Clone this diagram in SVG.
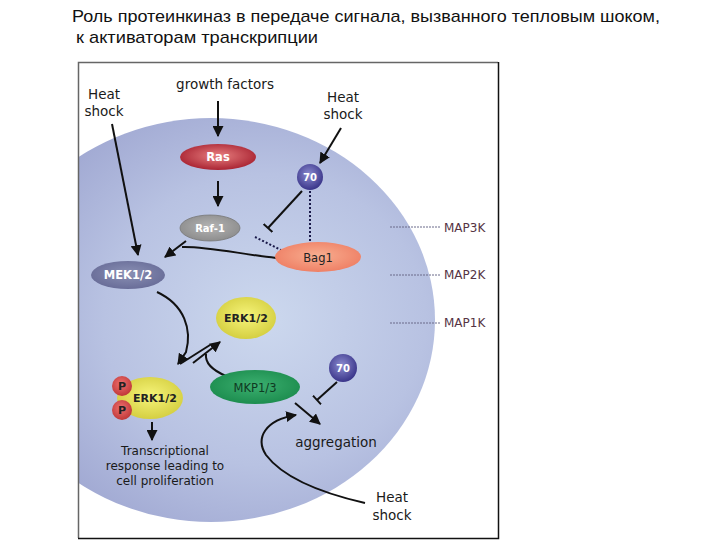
<svg xmlns="http://www.w3.org/2000/svg" width="720" height="540" viewBox="0 0 720 540">
<defs>
<radialGradient id="cell" cx="0.62" cy="0.5" r="0.6">
<stop offset="0" stop-color="#ccd8ee"/><stop offset="0.6" stop-color="#b8c2e2"/><stop offset="1" stop-color="#a0a8d2"/>
</radialGradient>
<radialGradient id="gRas" cx="0.5" cy="0.45" r="0.6"><stop offset="0" stop-color="#e88080"/><stop offset="1" stop-color="#a41c2c"/></radialGradient>
<radialGradient id="g70" cx="0.45" cy="0.4" r="0.6"><stop offset="0" stop-color="#8c8cd0"/><stop offset="1" stop-color="#3a358a"/></radialGradient>
<radialGradient id="gRaf" cx="0.5" cy="0.45" r="0.6"><stop offset="0" stop-color="#b4b4b4"/><stop offset="1" stop-color="#8a8a8a"/></radialGradient>
<radialGradient id="gBag" cx="0.5" cy="0.45" r="0.6"><stop offset="0" stop-color="#f8ae90"/><stop offset="1" stop-color="#ee7c62"/></radialGradient>
<radialGradient id="gMEK" cx="0.5" cy="0.45" r="0.6"><stop offset="0" stop-color="#8a90b4"/><stop offset="1" stop-color="#666a96"/></radialGradient>
<radialGradient id="gERK" cx="0.5" cy="0.45" r="0.6"><stop offset="0" stop-color="#f6f47a"/><stop offset="1" stop-color="#d2cc3c"/></radialGradient>
<radialGradient id="gMKP" cx="0.5" cy="0.45" r="0.6"><stop offset="0" stop-color="#3cb070"/><stop offset="1" stop-color="#1a8a4c"/></radialGradient>
<radialGradient id="gP" cx="0.45" cy="0.4" r="0.6"><stop offset="0" stop-color="#ee7070"/><stop offset="1" stop-color="#c03838"/></radialGradient>
<marker id="ah" viewBox="0 0 10 10" refX="9" refY="5" markerWidth="5.5" markerHeight="5.5" orient="auto" markerUnits="strokeWidth">
<path d="M0,0 L10,5 L0,10 Z" fill="#111"/>
</marker>
<marker id="tb" viewBox="0 0 10 10" refX="5" refY="5" markerWidth="6" markerHeight="6" orient="auto" markerUnits="strokeWidth">
<path d="M5,0 L5,10" stroke="#111" stroke-width="1.6"/>
</marker>
<clipPath id="frame"><rect x="79" y="63" width="419" height="475"/></clipPath>
</defs>
<style>
.title{font-family:"Liberation Sans",Arial,sans-serif;font-size:17px;fill:#111}
.lbl{font-family:"DejaVu Sans",Verdana,sans-serif;font-size:13.5px;fill:#1a1a1a;text-anchor:middle}
.sm{font-family:"DejaVu Sans",Verdana,sans-serif;font-size:12px;fill:#1a1a1a;text-anchor:middle}
.map{font-family:"DejaVu Sans",Verdana,sans-serif;font-size:12px;fill:#553344}
.nw{font-family:"DejaVu Sans",Verdana,sans-serif;font-size:11.5px;font-weight:bold;fill:#fff;text-anchor:middle}
.n70{font-family:"DejaVu Sans",Verdana,sans-serif;font-size:10px;font-weight:bold;fill:#fff;text-anchor:middle}
.nd{font-family:"DejaVu Sans",Verdana,sans-serif;font-size:11px;font-weight:bold;fill:#222;text-anchor:middle}
.nn{font-family:"DejaVu Sans",Verdana,sans-serif;font-size:11.5px;fill:#222;text-anchor:middle}
.ln{fill:none;stroke:#111;stroke-width:2}
.dot{fill:none;stroke:#1a1a4a;stroke-width:2;stroke-dasharray:2 2}
.guide{stroke:#6a6a8a;stroke-width:1;stroke-dasharray:2 1}
</style>
<rect width="720" height="540" fill="#fff"/>
<text class="title" x="72" y="22" textLength="588" lengthAdjust="spacingAndGlyphs">Роль протеинкиназ в  передаче сигнала, вызванного тепловым шоком,</text>
<text class="title" x="76" y="43" textLength="242" lengthAdjust="spacingAndGlyphs">к активаторам транскрипции</text>
<g id="cell">
<ellipse cx="211" cy="320" rx="224" ry="202" fill="url(#cell)" clip-path="url(#frame)"/>
</g>
<g id="frame-border">
<path d="M78.5,538 L78.5,62.5 L498,62.5" fill="none" stroke="#666" stroke-width="1.5"/>
<path d="M498.5,62 L498.5,538.5 L78,538.5" fill="none" stroke="#111" stroke-width="1.5"/>
</g>
<g id="levels">
<line class="guide" x1="390" y1="227" x2="440" y2="227"/>
<line class="guide" x1="390" y1="275" x2="440" y2="275"/>
<line class="guide" x1="390" y1="323" x2="440" y2="323"/>
<text class="map" x="444" y="232">MAP3K</text>
<text class="map" x="444" y="279">MAP2K</text>
<text class="map" x="444" y="327">MAP1K</text>
</g>
<g id="connectors">
<line class="ln" x1="218" y1="101" x2="218" y2="136" marker-end="url(#ah)"/>
<line class="ln" x1="218" y1="181" x2="218" y2="206" marker-end="url(#ah)"/>
<line class="ln" x1="341" y1="128" x2="320" y2="163" marker-end="url(#ah)"/>
<line class="ln" x1="112" y1="124" x2="138" y2="255" marker-end="url(#ah)"/>
<line class="ln" x1="302" y1="191" x2="268" y2="228" marker-end="url(#tb)"/>
<line class="dot" x1="310" y1="191" x2="310" y2="243"/>
<line class="dot" x1="255" y1="237" x2="281" y2="250"/>
<line class="ln" x1="186" y1="241" x2="165" y2="257" marker-end="url(#ah)"/>
<path class="ln" d="M276,258 C240,254 205,246 182,247"/>
<path class="ln" d="M157,292 C185,305 192,330 186,352 L178,364" marker-end="url(#ah)"/>
<line class="ln" x1="210" y1="345" x2="180" y2="364"/>
<line class="ln" x1="193" y1="363" x2="220" y2="342" marker-end="url(#ah)"/>
<path class="ln" d="M226,376 C212,370 205,362 206,354"/>
<line class="ln" x1="152" y1="422" x2="152" y2="440" marker-end="url(#ah)"/>
<line class="ln" x1="337" y1="382" x2="317" y2="400" marker-end="url(#tb)"/>
<line class="ln" x1="295" y1="403" x2="320" y2="424" marker-end="url(#ah)"/>
<path class="ln" d="M365,503 C330,495 285,480 266,455 C255,438 265,420 296,415" marker-end="url(#ah)"/>
</g>
<g id="n-growth"><text class="lbl" x="225" y="89">growth factors</text></g>
<g id="n-heat1"><text class="lbl" x="104" y="99">Heat</text><text class="lbl" x="104" y="116">shock</text></g>
<g id="n-heat2"><text class="lbl" x="343" y="102">Heat</text><text class="lbl" x="343" y="119">shock</text></g>
<g id="n-ras"><ellipse cx="218" cy="157" rx="38" ry="13" fill="url(#gRas)"/><text class="nw" x="218" y="161">Ras</text></g>
<g id="n-70a"><circle cx="310" cy="177" r="13" fill="url(#g70)"/><text class="n70" x="310" y="181">70</text></g>
<g id="n-raf"><ellipse cx="210" cy="228" rx="30" ry="13" fill="url(#gRaf)" stroke="#777" stroke-width="0.8"/><text class="n70" x="210" y="232">Raf-1</text></g>
<g id="n-bag1"><ellipse cx="318" cy="257" rx="43" ry="15" fill="url(#gBag)"/><text class="nn" x="318" y="262">Bag1</text></g>
<g id="n-mek"><ellipse cx="128" cy="275" rx="37" ry="14" fill="url(#gMEK)"/><text class="nw" x="128" y="279">MEK1/2</text></g>
<g id="n-erk"><ellipse cx="246" cy="318" rx="30" ry="21" fill="url(#gERK)"/><text class="nd" x="246" y="322">ERK1/2</text></g>
<g id="n-perk">
<ellipse cx="150" cy="398" rx="33" ry="21" fill="url(#gERK)"/>
<circle cx="122" cy="386" r="10" fill="url(#gP)"/><circle cx="122" cy="410" r="10" fill="url(#gP)"/>
<text class="nd" x="122" y="390">P</text><text class="nd" x="122" y="414">P</text>
<text class="nd" x="155" y="402">ERK1/2</text>
</g>
<g id="n-mkp"><ellipse cx="255" cy="387" rx="45" ry="17" fill="url(#gMKP)"/><text class="nn" x="255" y="392" style="fill:#0f3a22">MKP1/3</text></g>
<g id="n-70b"><circle cx="343" cy="368" r="14" fill="url(#g70)"/><text class="n70" x="343" y="372">70</text></g>
<g id="n-aggr"><text class="lbl" x="336" y="447">aggregation</text></g>
<g id="n-trans"><text class="sm" x="165" y="455">Transcriptional</text><text class="sm" x="165" y="470">response leading to</text><text class="sm" x="165" y="485">cell proliferation</text></g>
<g id="n-heat3"><text class="lbl" x="392" y="502">Heat</text><text class="lbl" x="392" y="520">shock</text></g>
</svg>
